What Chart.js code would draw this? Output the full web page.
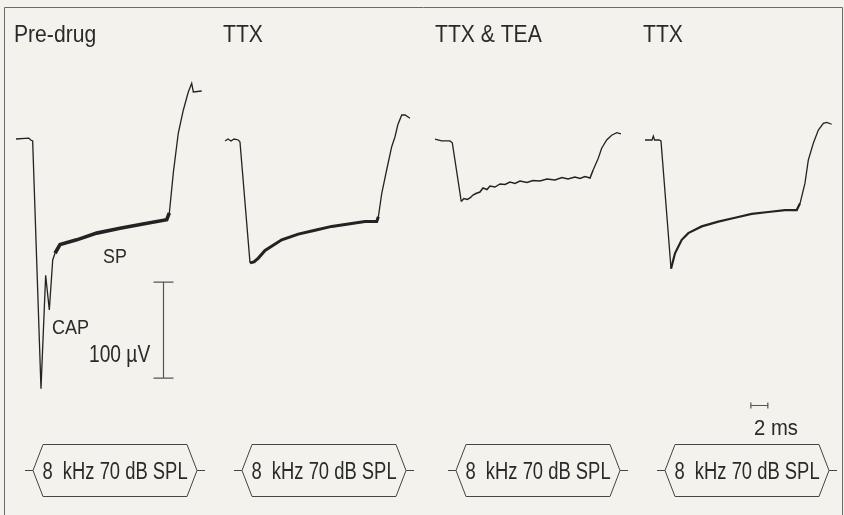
<!DOCTYPE html>
<html>
<head>
<meta charset="utf-8">
<script src="https://cdn.jsdelivr.net/npm/chart.js@4.4.1/dist/chart.umd.min.js"></script>
<style>
  html, body { margin: 0; padding: 0; background: #f3f2ec; }
  #wrap { width: 844px; height: 515px; position: relative; }
</style>
</head>
<body>
<div id="wrap"><canvas id="traces" width="844" height="515"></canvas></div>
<script>
// time in ms from start of each sweep, potential in µV (0 = pre-stimulus baseline)
const panelNames = ['Pre-drug', 'TTX', 'TTX & TEA', 'TTX'];
const stimLabel = '8  kHz 70 dB SPL';

const preT = [0, 1.5, 1.73, 1.96, 2.94, 3.49, 3.92, 4.32, 4.59, 5.18, 7.14, 9.49, 12.24, 14.94, 17.73, 18.04, 18.51, 19.09, 19.68, 20.27, 20.67, 20.86, 21.85];
const preV = [1, 2, 0, -1, -259, -141, -177, -125, -118, -109, -104, -97, -92, -87.5, -83, -76, -34, 7, 31, 50, 59, 50, 51];

const ttxT = [0, 0.35, 0.71, 1.06, 1.56, 1.76, 2.94, 3.41, 3.92, 4.71, 6.67, 8.62, 10.59, 12.55, 14.51, 16.47, 17.85, 18.04, 18.44, 19.02, 19.61, 20.0, 20.32, 20.79, 21.18, 21.76];
const ttxV = [-1, 1, -1, 1, 0, -2, -128, -127, -123, -115, -104, -98, -94, -90, -87.5, -85, -85, -80, -55.5, -31, -7, 3.4, 15.6, 26, 26, 22.6];

const teaT = [0, 0.79, 1.76, 2.04, 3.09, 3.4, 3.8, 4.12, 4.47, 4.82, 5.29, 5.65, 6.12, 6.47, 7.06, 7.65, 8.24, 8.82, 9.41, 10.0, 10.82, 11.53, 12.35, 13.18, 14.12, 14.94, 15.65, 16.47, 17.06, 17.65, 18.24, 18.62, 19.21, 19.61, 20.2, 20.79, 21.38, 21.88];
const teaV = [1, -1, -1, -3, -64, -61, -62, -60.4, -57.3, -55.7, -54.2, -50, -51.6, -47.9, -49, -45.8, -46.4, -43.8, -45.3, -42.7, -44.3, -42.2, -42.7, -40.6, -41.7, -39.1, -40.6, -38.5, -40.1, -38, -39.6, -31, -19, -8.6, 0, 5, 7.6, 6.3];

const ttx2T = [0, 0.82, 0.98, 1.12, 1.65, 1.88, 3.06, 3.53, 4.32, 5.09, 6.67, 8.62, 10.59, 12.55, 14.51, 16.47, 17.85, 18.24, 18.82, 19.21, 19.8, 20.39, 20.98, 21.38, 21.96];
const ttx2V = [0, 0, 4, 0, 0, -1, -134, -118, -104, -97, -90, -85, -81, -77, -75, -73, -73, -66, -45, -21, -3.4, 10.4, 17.4, 18.4, 16.4];

// layout (ms offset of each sweep on the shared time axis)
const sweepStart = [0, 24.59, 49.29, 74.0];
const noisy = [[4.5, 17.8, 3.6], [2.9, 17.9, 3.0], [3.0, 18.3, 1.5], [3.0, 17.9, 2.2]];
const INK = '#232323';

function mk(t, v, i) {
  return {
    data: t.map((x, k) => ({ x: x + sweepStart[i], y: v[k] })),
    borderColor: INK,
    borderWidth: 1.3,
    pointRadius: 0,
    tension: 0,
    segment: {
      borderWidth: c => {
        const x = c.p0.parsed.x - sweepStart[i];
        return (x >= noisy[i][0] && x < noisy[i][1]) ? noisy[i][2] : 1.3;
      }
    }
  };
}

function condText(ctx, txt, x, y, size, sx, align) {
  ctx.save();
  ctx.font = size + 'px "Liberation Sans", Arial, sans-serif';
  ctx.fillStyle = '#2a2a2a';
  ctx.textAlign = align || 'left';
  ctx.textBaseline = 'alphabetic';
  ctx.translate(x, y);
  ctx.scale(sx, 1);
  ctx.fillText(txt, 0, 0);
  ctx.restore();
}

const boxCentres = [115, 324, 538, 747];

const decor = {
  id: 'decor',
  beforeDraw(chart) {
    const ctx = chart.ctx;
    ctx.save();
    ctx.fillStyle = '#f3f2ec';
    ctx.fillRect(0, 0, 844, 515);
    ctx.strokeStyle = '#6a6a6a';
    ctx.lineWidth = 1;
    ctx.beginPath();
    ctx.moveTo(4.5, 520); ctx.lineTo(4.5, 7.5); ctx.lineTo(842.5, 7.5); ctx.lineTo(842.5, 520);
    ctx.stroke();
    ctx.restore();
  },
  afterDraw(chart) {
    const ctx = chart.ctx;
    const xs = chart.scales.x, ys = chart.scales.y;
    const titleX = [14, 223, 435, 643];
    panelNames.forEach((n, i) => condText(ctx, n, titleX[i], 42, 24, 0.88));
    condText(ctx, 'SP', 103, 263, 21, 0.85);
    condText(ctx, 'CAP', 52, 334, 20, 0.9);
    condText(ctx, '100 µV', 89, 362, 24, 0.8);
    condText(ctx, '2 ms', 754, 435, 22, 0.92);

    ctx.save();
    ctx.strokeStyle = '#555';
    ctx.lineWidth = 1.2;
    // 100 µV bar
    const bx = Math.round(xs.getPixelForValue(17.25)) + 0.5;
    const b0 = ys.getPixelForValue(-148), b1 = ys.getPixelForValue(-248);
    ctx.beginPath();
    ctx.moveTo(bx, b0); ctx.lineTo(bx, b1);
    ctx.moveTo(bx - 10, b0); ctx.lineTo(bx + 10, b0);
    ctx.moveTo(bx - 10, b1); ctx.lineTo(bx + 10, b1);
    ctx.stroke();
    // 2 ms bar
    const h0 = xs.getPixelForValue(86.45), h1 = xs.getPixelForValue(88.45);
    const hy = Math.round(ys.getPixelForValue(-276)) + 0.5;
    ctx.beginPath();
    ctx.moveTo(h0, hy); ctx.lineTo(h1, hy);
    ctx.moveTo(h0, hy - 3); ctx.lineTo(h0, hy + 3);
    ctx.moveTo(h1, hy - 3); ctx.lineTo(h1, hy + 3);
    ctx.stroke();

    // stimulus boxes
    ctx.strokeStyle = '#444';
    ctx.lineWidth = 1;
    const top = 444.5, bot = 496.5, mid = (top + bot) / 2;
    boxCentres.forEach(cx => {
      const hw = 82, cw = 72;
      ctx.beginPath();
      ctx.moveTo(cx - hw - 8, mid); ctx.lineTo(cx - hw, mid);
      ctx.lineTo(cx - cw, top); ctx.lineTo(cx + cw, top);
      ctx.lineTo(cx + hw, mid); ctx.lineTo(cx + cw, bot);
      ctx.lineTo(cx - cw, bot); ctx.lineTo(cx - hw, mid);
      ctx.moveTo(cx + hw, mid); ctx.lineTo(cx + hw + 8, mid);
      ctx.stroke();
    });
    ctx.restore();
    boxCentres.forEach(cx => condText(ctx, stimLabel, cx, mid + 8, 23, 0.8, 'center'));
  }
};

new Chart(document.getElementById('traces'), {
  type: 'line',
  data: {
    datasets: [mk(preT, preV, 0), mk(ttxT, ttxV, 1), mk(teaT, teaV, 2), mk(ttx2T, ttx2V, 3)]
  },
  options: {
    responsive: false,
    animation: false,
    layout: { padding: 0 },
    scales: {
      x: { type: 'linear', display: false, min: -1.882, max: 97.41 },
      y: { display: false, min: -390.6, max: 145.8 }
    },
    plugins: { legend: { display: false }, tooltip: { enabled: false } }
  },
  plugins: [decor]
});
</script>
</body>
</html>
